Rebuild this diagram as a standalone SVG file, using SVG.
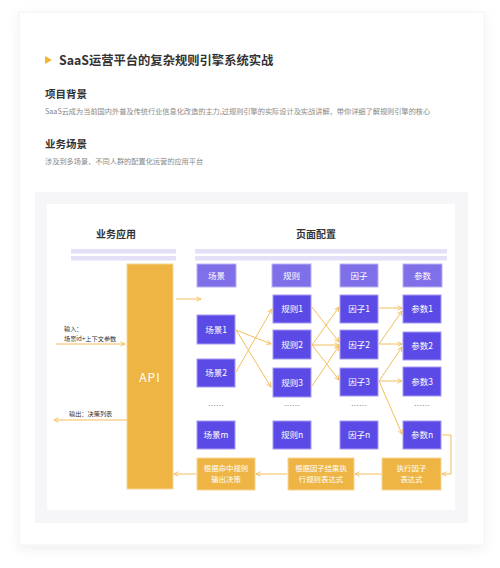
<svg xmlns="http://www.w3.org/2000/svg" width="500" height="568" viewBox="0 0 500 568">
<defs>
<filter id="sh" x="-10%" y="-10%" width="120%" height="120%">
<feDropShadow dx="0" dy="4" stdDeviation="6" flood-color="#000" flood-opacity="0.06"/>
</filter>
<marker id="ah" viewBox="0 0 8 8" refX="7" refY="4" markerWidth="6" markerHeight="6" orient="auto" markerUnits="userSpaceOnUse">
<path d="M1,1 L7,4 L1,7" fill="none" stroke="#F3BE5C" stroke-width="1.2"/>
</marker>
<style>
text{font-family:"Noto Sans CJK SC","Noto Sans",sans-serif}
.h1{font-size:12.3px;font-weight:bold;fill:#333}
.h2{font-size:10.5px;font-weight:bold;fill:#333}
.p{font-size:7.2px;fill:#888}
.col{font-size:10px;font-weight:bold;fill:#333;text-anchor:middle}
.bar{fill:#E3E0F7}
.hd{fill:#7F6FE8;stroke:#B9B1F3;stroke-width:1}
.bx{fill:#5B4AE5;stroke:#A69CF2;stroke-width:1}
.ob{fill:#EEB545;stroke:#F7D596;stroke-width:1}
.bt{font-size:8.5px;fill:#fff;text-anchor:middle}
.ot{font-size:7.4px;fill:#fff;text-anchor:middle}
.lb{font-size:6.2px;fill:#333}
.dot{font-size:8px;fill:#888;text-anchor:middle}
.cn path,.cn line,.cn polyline{fill:none;stroke:#F3BE5C;stroke-width:1;marker-end:url(#ah)}
</style>
</defs>
<rect width="500" height="568" fill="#fff"/>
<rect x="19" y="12" width="465" height="533" fill="#fff" stroke="#f2f2f2" stroke-width="1" filter="url(#sh)"/>
<g id="title">
<polygon points="45,56 52,60 45,64" fill="#F5B330"/>
<text class="h1" x="59" y="65">SaaS运营平台的复杂规则引擎系统实战</text>
</g>
<g id="bg-section">
<text class="h2" x="45" y="98">项目背景</text>
<text class="p" x="45" y="114">SaaS云成为当前国内外普及传统行业信息化改造的主力,过规则引擎的实际设计及实战讲解，带你详细了解规则引擎的核心</text>
</g>
<g id="scene-section">
<text class="h2" x="45" y="148">业务场景</text>
<text class="p" x="45" y="164">涉及到多场景、不同人群的配置化运营的应用平台</text>
</g>
<rect x="35" y="192" width="433" height="331" fill="#F6F6F8"/>
<rect x="47" y="204" width="408" height="306" fill="#fff"/>
<g id="headers">
<text class="col" x="116" y="238">业务应用</text>
<text class="col" x="316" y="238">页面配置</text>
<rect class="bar" x="71" y="249" width="105" height="4.5"/>
<rect class="bar" x="71" y="256" width="105" height="4.5"/>
<rect class="bar" x="195" y="249" width="252" height="4.5"/>
<rect class="bar" x="195" y="256" width="252" height="4.5"/>
</g>
<g id="api">
<rect x="127" y="264" width="46" height="225" fill="#EEB545" stroke="#F7D596" stroke-width="1"/>
<text x="150" y="382" font-size="12" fill="#fff" text-anchor="middle" letter-spacing="1">API</text>
</g>
<g id="labels">
<text class="lb" x="64" y="331">输入：</text>
<text class="lb" x="64" y="340.5">场景id+上下文参数</text>
<text class="lb" x="69" y="416">输出：决策列表</text>
</g>
<g id="col-heads">
<rect class="hd" x="197" y="264" width="39" height="23"/><text class="bt" x="216.5" y="278.5">场景</text>
<rect class="hd" x="272" y="264" width="39" height="23"/><text class="bt" x="291.5" y="278.5">规则</text>
<rect class="hd" x="340" y="264" width="38" height="23"/><text class="bt" x="359" y="278.5">因子</text>
<rect class="hd" x="403" y="264" width="39" height="23"/><text class="bt" x="422.5" y="278.5">参数</text>
</g>
<g id="scenes">
<rect class="bx" x="197" y="315" width="38" height="29"/><text class="bt" x="216" y="332.5">场景1</text>
<rect class="bx" x="197" y="359" width="38" height="28"/><text class="bt" x="216" y="376">场景2</text>
<text class="dot" x="216" y="409">……</text>
<rect class="bx" x="197" y="421" width="38" height="28"/><text class="bt" x="216" y="438">场景m</text>
</g>
<g id="rules">
<rect class="bx" x="273" y="295" width="38" height="28"/><text class="bt" x="292" y="312">规则1</text>
<rect class="bx" x="273" y="330" width="38" height="29"/><text class="bt" x="292" y="347.5">规则2</text>
<rect class="bx" x="273" y="368" width="38" height="29"/><text class="bt" x="292" y="385.5">规则3</text>
<text class="dot" x="292" y="409">……</text>
<rect class="bx" x="273" y="421" width="38" height="28"/><text class="bt" x="292" y="438">规则n</text>
</g>
<g id="factors">
<rect class="bx" x="340" y="295" width="38" height="28"/><text class="bt" x="359" y="312">因子1</text>
<rect class="bx" x="340" y="330" width="38" height="29"/><text class="bt" x="359" y="347.5">因子2</text>
<rect class="bx" x="340" y="368" width="38" height="28"/><text class="bt" x="359" y="385">因子3</text>
<text class="dot" x="359" y="409">……</text>
<rect class="bx" x="340" y="421" width="38" height="28"/><text class="bt" x="359" y="438">因子n</text>
</g>
<g id="params">
<rect class="bx" x="403" y="295" width="38" height="28"/><text class="bt" x="422" y="312">参数1</text>
<rect class="bx" x="403" y="332" width="38" height="28"/><text class="bt" x="422" y="349">参数2</text>
<rect class="bx" x="403" y="367" width="38" height="29"/><text class="bt" x="422" y="384.5">参数3</text>
<text class="dot" x="422" y="409">……</text>
<rect class="bx" x="403" y="421" width="38" height="28"/><text class="bt" x="422" y="438">参数n</text>
</g>
<g id="steps">
<rect class="ob" x="197" y="458" width="58" height="32"/>
<text class="ot" x="226" y="471">根据命中规则<tspan x="226" dy="11">输出决策</tspan></text>
<rect class="ob" x="288" y="458" width="66" height="32"/>
<text class="ot" x="321" y="471">根据因子结果执<tspan x="321" dy="11">行规则表达式</tspan></text>
<rect class="ob" x="382" y="458" width="59" height="32"/>
<text class="ot" x="411.5" y="471">执行因子<tspan x="411.5" dy="11">表达式</tspan></text>
</g>
<g id="connectors" class="cn">
<line x1="56" y1="344" x2="125" y2="344"/>
<line x1="127" y1="420" x2="54" y2="420"/>
<line x1="176" y1="299" x2="201" y2="299"/>
<line x1="236" y1="330" x2="271" y2="344"/>
<line x1="236" y1="330" x2="271" y2="387"/>
<line x1="236" y1="372" x2="272" y2="309"/>
<line x1="312" y1="307" x2="339" y2="342"/>
<line x1="312" y1="345" x2="339" y2="307"/>
<line x1="312" y1="345" x2="339" y2="345"/>
<line x1="312" y1="345" x2="339" y2="380"/>
<line x1="312" y1="386" x2="339" y2="346"/>
<line x1="379" y1="308" x2="402" y2="308"/>
<line x1="379" y1="344" x2="402" y2="311"/>
<line x1="379" y1="344" x2="402" y2="344"/>
<line x1="379" y1="381" x2="402" y2="347"/>
<line x1="379" y1="381" x2="402" y2="381"/>
<line x1="379" y1="381" x2="402" y2="434"/>
<polyline points="442,435 451,435 451,474 442,474"/>
<line x1="381" y1="474" x2="355" y2="474"/>
<line x1="287" y1="474" x2="256" y2="474"/>
<line x1="196" y1="474" x2="174" y2="474"/>
</g>
</svg>
